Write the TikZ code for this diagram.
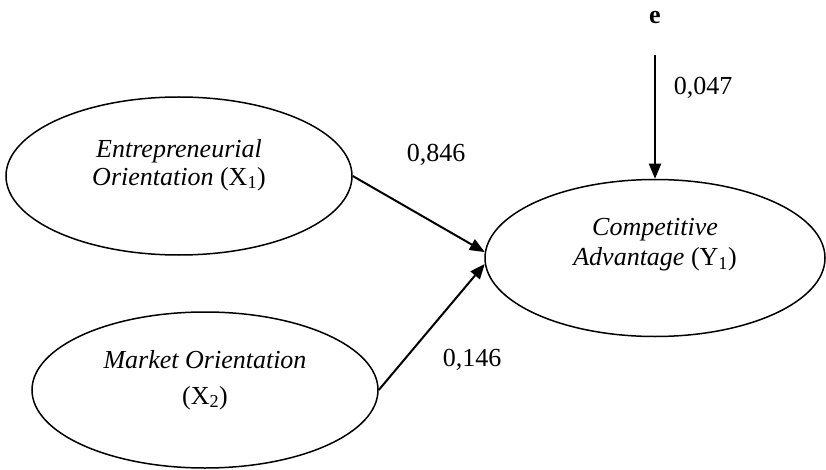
\documentclass[tikz,border=0pt]{standalone}
\usepackage{fontspec}
\setmainfont{Liberation Serif}
\usetikzlibrary{shapes.geometric,arrows.meta}
\begin{document}
\begin{tikzpicture}[x=1pt,y=-1pt,
  construct/.style={ellipse,draw,line width=1.5pt,inner sep=0pt},
  link/.style={line width=2pt,-{Triangle[length=15pt,width=12pt]}},
  txt/.style={font=\fontsize{26}{28}\selectfont,align=center},
  coef/.style={font=\fontsize{26}{28}\selectfont},
]
\useasboundingbox (0,0) rectangle (826,470);

% latent constructs
\node[construct,minimum width=346pt,minimum height=158pt] (eo) at (179,176) {};
\node[construct,minimum width=346pt,minimum height=156pt] (mo) at (205,390) {};
\node[construct,minimum width=340pt,minimum height=157pt] (ca) at (655,258) {};

\node[txt] (eotext) at (179,165) {\textit{Entrepreneurial}\\\textit{Orientation} (X\textsubscript{1})};
\node[txt,font=\fontsize{26}{36}\selectfont] (motext) at (205,380) {\textit{Market Orientation}\\(X\textsubscript{2})};
\node[txt,font=\fontsize{26}{30}\selectfont] (catext) at (655,245) {\textit{Competitive}\\\textit{Advantage} (Y\textsubscript{1})};

% error term
\node[coef,font=\fontsize{26}{28}\selectfont\bfseries] (e) at (655,18) {e};
\coordinate (es) at (655,55);

% paths
\draw[link] (eo.east) -- (ca.178);
\draw[link] (mo.east) -- (ca.182);
\draw[link] (es) -- (ca.north);

% path coefficients
\node[coef] (c1) at (436,155) {0,846};
\node[coef] (c2) at (472,360) {0,146};
\node[coef] (c3) at (703,88) {0,047};
\end{tikzpicture}
\end{document}
